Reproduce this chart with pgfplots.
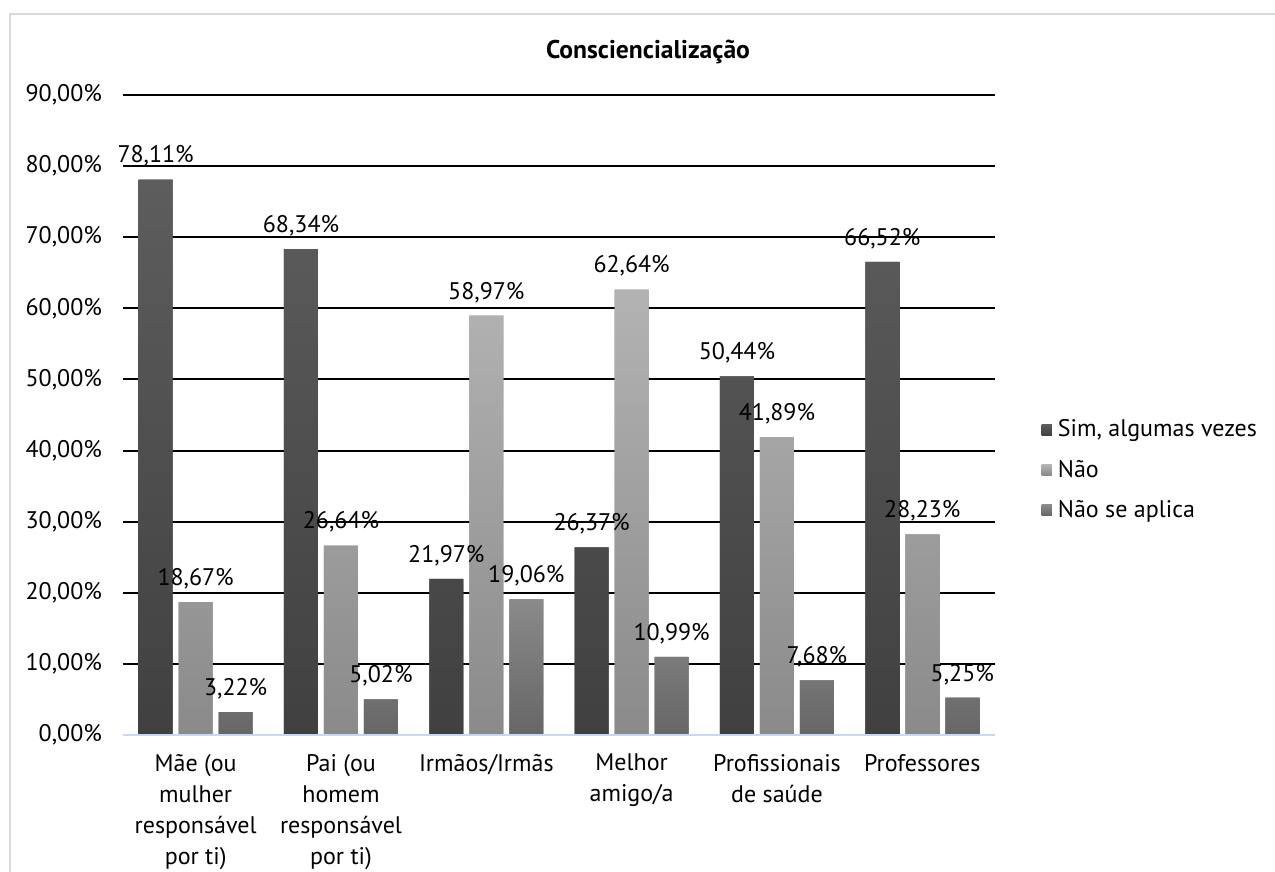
\documentclass[border=0pt]{standalone}
\usepackage{pgfplots}
\pgfplotsset{compat=1.18}
\usepackage{fontspec}
\setmainfont{PT Sans}
\definecolor{simtop}{HTML}{5D5D5D}
\definecolor{simbot}{HTML}{404040}
\definecolor{naotop}{HTML}{B3B3B3}
\definecolor{naobot}{HTML}{8A8A8A}
\definecolor{aptop}{HTML}{8A8A8A}
\definecolor{apbot}{HTML}{666666}
\definecolor{frame}{HTML}{D9D9D9}
\definecolor{zeroline}{HTML}{C6D9F1}

\begin{document}
\begin{tikzpicture}
% 1 px of the reference = 0.5pt; axis box SW corner at px (123,735)
\useasboundingbox (-61.5pt,-68.5pt) rectangle (576pt,367.5pt);
\draw[frame, line width=1pt] (-56.5pt,360.5pt) rectangle (600pt,-90pt);
\node[font=\bfseries\fontsize{12.8}{14}\selectfont] at (262.5pt,341.5pt) {Consciencialização};
\begin{axis}[
    scale only axis,
    width=436pt, height=320pt,
    ybar=3pt, bar width=17pt,
    xmin=-0.5, xmax=5.5,
    ymin=0, ymax=90,
    ytick={0,10,...,90},
    xtick={0,...,5},
    xticklabels={{Mãe (ou\\mulher\\responsável\\por ti)},{Pai (ou\\homem\\responsável\\por ti)},{Irmãos/Irmãs},{Melhor\\amigo/a},{Profissionais\\de saúde},{Professores}},
    x tick label style={align=center, font=\fontsize{12}{15.5}\selectfont, yshift=-6pt},
    y tick label style={font=\fontsize{12}{14}\selectfont, xshift=-7pt},
    /pgf/number format/assume math mode=true,
    yticklabel={\pgfmathprintnumber[fixed, fixed zerofill, precision=2, use comma]{\tick}\%},
    major tick length=0pt,
    ymajorgrids,
    grid style={black, line width=1pt},
    axis x line*=bottom,
    axis y line*=left,
    axis line style={draw=none},
    nodes near coords={\pgfmathprintnumber[fixed, fixed zerofill, precision=2, use comma, assume math mode=true]{\pgfplotspointmeta}\%},
    nodes near coords style={font=\fontsize{12}{14}\selectfont, anchor=south, yshift=3pt, black},
    legend style={at={(1.046,0.414)}, anchor=west, draw=none, fill=none,
        font=\fontsize{12}{14}\selectfont, row sep=6pt,
        /tikz/every odd column/.append style={column sep=1pt}},
    legend cell align=left,
    legend image code/.code={\fill[#1] (0pt,-2.6pt) rectangle (5.2pt,2.6pt);},
    clip=false,
]
\addplot[draw=none, top color=simtop, bottom color=simbot, fill=simbot] coordinates {
    (0,78.11) (1,68.34) (2,21.97) (3,26.37) (4,50.44) (5,66.52)
};
\addplot[draw=none, top color=naotop, bottom color=naobot, fill=naobot] coordinates {
    (0,18.67) (1,26.64) (2,58.97) (3,62.64) (4,41.89) (5,28.23)
};
\addplot[draw=none, top color=aptop, bottom color=apbot, fill=apbot] coordinates {
    (0,3.22) (1,5.02) (2,19.06) (3,10.99) (4,7.68) (5,5.25)
};
\legend{{Sim, algumas vezes}, {Não}, {Não se aplica}}
\draw[zeroline, line width=1pt] (rel axis cs:0,0) -- (rel axis cs:1,0);
\end{axis}
\end{tikzpicture}
\end{document}
